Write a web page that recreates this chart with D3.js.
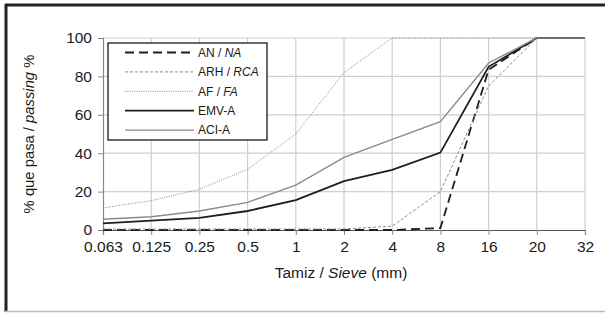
<!DOCTYPE html>
<html>
<head>
<meta charset="utf-8">
<script src="https://cdn.jsdelivr.net/npm/d3@7/dist/d3.min.js"></script>
<style>
  html, body { margin: 0; padding: 0; background: #fff; }
  svg { display: block; font-family: "Liberation Sans", Arial, sans-serif; }
</style>
</head>
<body>
<div id="chart"></div>
<script>
// Tamices (categorias del eje x)
const sieves = ["0.063", "0.125", "0.25", "0.5", "1", "2", "4", "8", "16", "20", "32"];
const yTicks = [0, 20, 40, 60, 80, 100];

// % que pasa por serie
const anNA   = [0, 0, 0, 0, 0, 0, 0, 1, 83.5, 100, 100];
const arhRCA = [0.5, 0.5, 0.5, 0.5, 0.5, 0.5, 2, 20, 75, 100, 100];
const afFA   = [11.5, 15.3, 21.2, 31.6, 50, 82, 100, 100, 100, 100, 100];
const emvA   = [3.5, 4.9, 6.3, 9.9, 15.6, 25.5, 31.3, 40.3, 85, 100, 100];
const aciA   = [5.6, 6.9, 9.9, 14.4, 23.4, 37.8, 47.2, 56.4, 87, 100, 100];

const series = [
  { name: "AN / ", it: "NA",  values: anNA,   color: "#1e1e1e", width: 1.8, dash: "9,5" },
  { name: "ARH / ", it: "RCA", values: arhRCA, color: "#8a8a8a", width: 1,   dash: "3,2" },
  { name: "AF / ", it: "FA",  values: afFA,   color: "#8a8a8a", width: 1,   dash: "1,1.3" },
  { name: "EMV-A", it: "",    values: emvA,   color: "#1e1e1e", width: 1.8, dash: null },
  { name: "ACI-A", it: "",    values: aciA,   color: "#8a8a8a", width: 1.4, dash: null }
];

const W = 605, H = 314;
const svg = d3.select("#chart").append("svg")
  .attr("width", W).attr("height", H);

// marco
svg.append("line").attr("x1", 5).attr("x2", W).attr("y1", 5).attr("y2", 5)
  .attr("stroke", "#222").attr("stroke-width", 3);
svg.append("line").attr("x1", 6).attr("x2", 6).attr("y1", 4).attr("y2", 312)
  .attr("stroke", "#222").attr("stroke-width", 3);
svg.append("line").attr("x1", 5).attr("x2", W).attr("y1", 311.5).attr("y2", 311.5)
  .attr("stroke", "#bbb").attr("stroke-width", 1.5);

const x = d3.scalePoint().domain(sieves).range([103, 585]);
const y = d3.scaleLinear().domain([0, 100]).range([230, 38]);

// rejilla
const grid = svg.append("g").attr("stroke", "#cfcfcf").attr("stroke-width", 1.2);
grid.selectAll("line.h").data(yTicks.slice(1)).join("line")
  .attr("x1", x.range()[0]).attr("x2", x.range()[1])
  .attr("y1", d => y(d)).attr("y2", d => y(d));
grid.selectAll("line.v").data(sieves.slice(1)).join("line")
  .attr("x1", d => x(d)).attr("x2", d => x(d))
  .attr("y1", y(0)).attr("y2", y(100));

// ejes
const yAxis = svg.append("g").attr("transform", "translate(103,0)")
  .call(d3.axisLeft(y).tickValues(yTicks).tickSize(5).tickPadding(6));
const xAxis = svg.append("g").attr("transform", "translate(0,230)")
  .call(d3.axisBottom(x).tickSize(5).tickPadding(6));
[yAxis, xAxis].forEach(a => {
  a.select(".domain").attr("stroke", "#888").attr("stroke-width", 1.2);
  a.selectAll(".tick line").attr("stroke", "#888");
  a.selectAll(".tick text").attr("font-size", 15.5).attr("fill", "#1a1a1a")
    .attr("font-family", "Liberation Sans, Arial, sans-serif");
});
xAxis.select(".domain").attr("stroke", "#555");

// lineas
const line = d3.line().x((d, i) => x(sieves[i])).y(d => y(d));
series.forEach(s => {
  svg.append("path").datum(s.values)
    .attr("fill", "none")
    .attr("stroke", s.color)
    .attr("stroke-width", s.width)
    .attr("stroke-dasharray", s.dash)
    .attr("d", line);
});

// leyenda
const lg = svg.append("g");
lg.append("rect").attr("x", 108).attr("y", 43).attr("width", 159).attr("height", 97)
  .attr("fill", "#fff").attr("stroke", "#1a1a1a").attr("stroke-width", 1.3);
series.forEach((s, i) => {
  const yy = 52.5 + i * 19.4;
  lg.append("line").attr("x1", 125).attr("x2", 194).attr("y1", yy).attr("y2", yy)
    .attr("stroke", s.color).attr("stroke-width", s.width)
    .attr("stroke-dasharray", s.dash);
  const t = lg.append("text").attr("x", 198).attr("y", yy + 4.3)
    .attr("font-size", 12).attr("fill", "#1a1a1a");
  t.append("tspan").text(s.name);
  if (s.it) t.append("tspan").attr("font-style", "italic").text(s.it);
});

// titulos de ejes
const xt = svg.append("text").attr("x", 341).attr("y", 278)
  .attr("text-anchor", "middle").attr("font-size", 15.5).attr("fill", "#1a1a1a");
xt.append("tspan").text("Tamiz / ");
xt.append("tspan").attr("font-style", "italic").text("Sieve");
xt.append("tspan").text(" (mm)");

const yt = svg.append("text").attr("transform", "translate(34,134) rotate(-90)")
  .attr("text-anchor", "middle").attr("font-size", 14.8).attr("fill", "#1a1a1a");
yt.append("tspan").text("% que pasa / ");
yt.append("tspan").attr("font-style", "italic").text("passing");
yt.append("tspan").text(" %");
</script>
</body>
</html>
